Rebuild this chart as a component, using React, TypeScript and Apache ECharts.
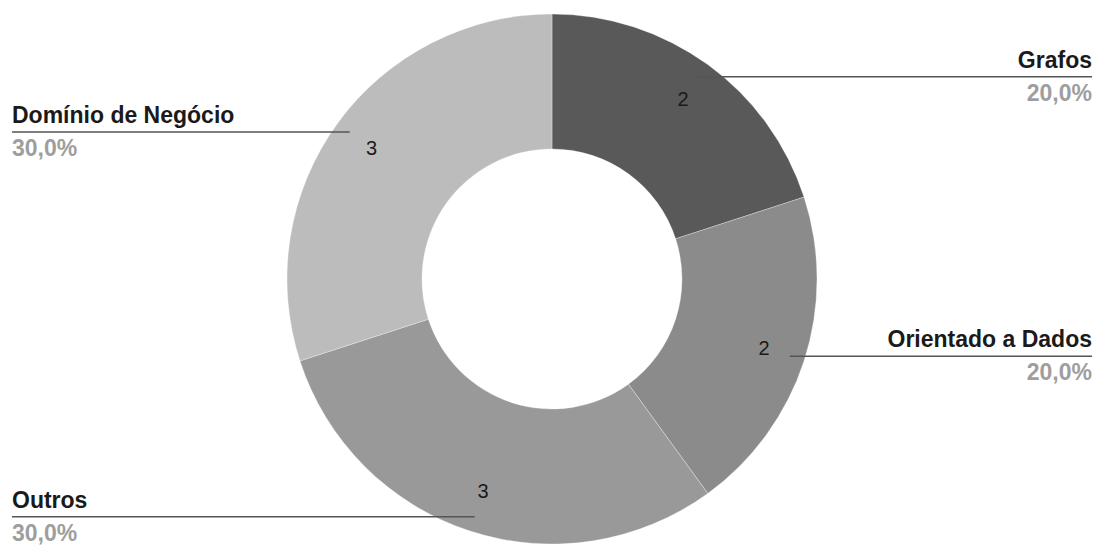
import React, { useEffect, useRef } from "react";
import * as echarts from "echarts";

const categories = ["Grafos", "Orientado a Dados", "Outros", "Domínio de Negócio"];
const values = [2, 2, 3, 3];
const percentLabels = ["20,0%", "20,0%", "30,0%", "30,0%"];
const colors = ["#595959", "#8b8b8b", "#999999", "#bcbcbc"];
const edgeDistances = [8, 8, 12, 12];

const FONT = "'Liberation Sans', Arial, sans-serif";

export default function App() {
  const ref = useRef<HTMLDivElement>(null);

  useEffect(() => {
    if (!ref.current) return;
    const chart = echarts.init(ref.current, undefined, { renderer: "svg" });
    const center = [552, 279];

    const mainData = categories.map((name, i) => ({
      name,
      value: values[i],
      itemStyle: { color: colors[i] },
    }));

    const valueLabelData = categories.map((name, i) => ({ name, value: values[i] }));

    const labelData = categories.map((name, i) => ({
      name,
      value: values[i],
      label: { edgeDistance: edgeDistances[i] },
    }));

    chart.setOption({
      animation: false,
      backgroundColor: "#ffffff",
      series: [
        {
          type: "pie",
          center,
          radius: [130, 265],
          startAngle: 90,
          clockwise: true,
          silent: true,
          data: mainData,
          itemStyle: { borderColor: "rgba(255,255,255,0.5)", borderWidth: 0.6 },
          label: { show: false },
          labelLine: { show: false },
          emphasis: { disabled: true },
        },
        {
          type: "pie",
          center,
          radius: [175, 265],
          startAngle: 90,
          clockwise: true,
          silent: true,
          z: 3,
          data: valueLabelData,
          itemStyle: { color: "transparent" },
          label: {
            show: true,
            position: "inside",
            formatter: (p: any) => String(p.value),
            color: "#1a1a1a",
            fontFamily: FONT,
            fontSize: 20,
          },
          labelLine: { show: false },
          emphasis: { disabled: true },
        },
        {
          type: "pie",
          center,
          radius: [130, 250],
          startAngle: 90,
          clockwise: true,
          silent: true,
          z: 3,
          data: labelData,
          itemStyle: { color: "transparent" },
          label: {
            show: true,
            position: "outside",
            alignTo: "edge",
            distanceToLabelLine: 0,
            formatter: (p: any) => `{name|${p.name}}\n{pct|${percentLabels[p.dataIndex]}}`,
            rich: {
              name: {
                fontFamily: FONT,
                fontWeight: "bold",
                fontSize: 23,
                color: "#1a1a1a",
                lineHeight: 32,
              },
              pct: {
                fontFamily: FONT,
                fontWeight: "bold",
                fontSize: 23,
                color: "#9e9e9e",
                lineHeight: 34,
              },
            },
          },
          labelLine: {
            show: true,
            length: 0,
            length2: 0,
            lineStyle: { color: "#555555", width: 1.6 },
          },
          labelLayout: (params: any) => {
            const isLeft = params.labelRect.x < chart.getWidth() / 2;
            const pts = params.labelLinePoints;
            if (!pts) return {};
            const start = pts[0];
            const endX = isLeft ? params.labelRect.x : params.labelRect.x + params.labelRect.width;
            return {
              labelLinePoints: [
                [start[0], start[1]],
                [start[0], start[1]],
                [endX, start[1]],
              ],
            };
          },
          emphasis: { disabled: true },
        },
      ],
    });

    return () => chart.dispose();
  }, []);

  return (
    <div
      ref={ref}
      style={{ position: "absolute", left: 0, top: 0, width: 1100, height: 545 }}
    />
  );
}
